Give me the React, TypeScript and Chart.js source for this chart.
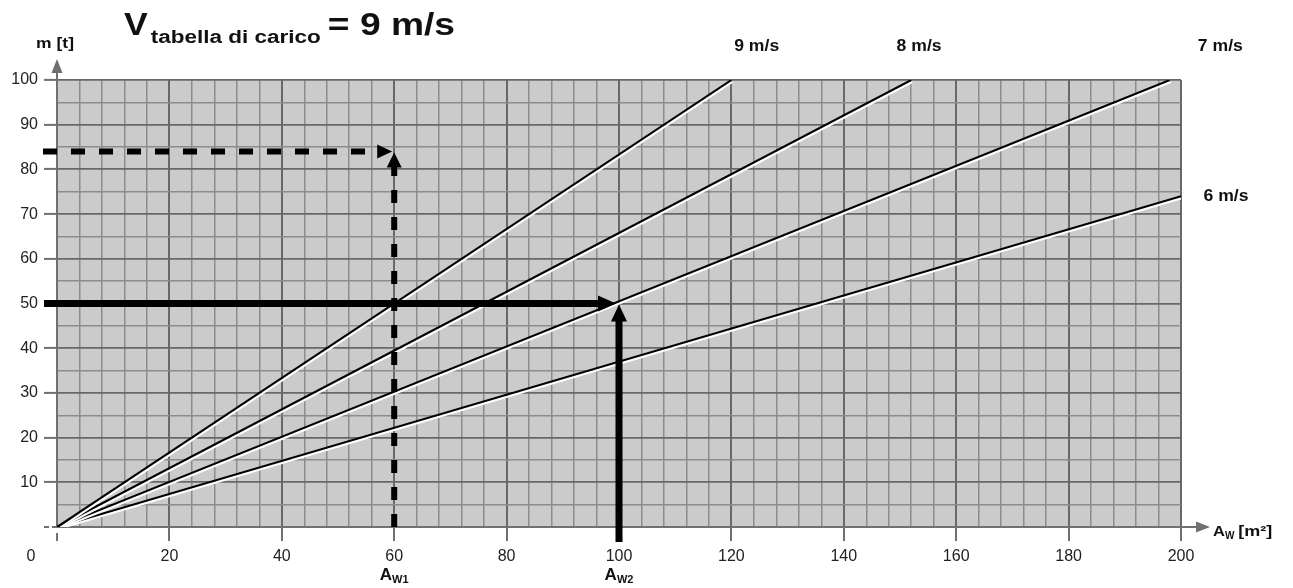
import React, { useEffect, useRef } from 'react';
import { Chart, registerables } from 'chart.js';

Chart.register(...registerables);

// ---- data ----
const speedLabels = ['9 m/s', '8 m/s', '7 m/s', '6 m/s'];
const lineEndA = [120, 152, 198, 200];
const lineEndM = [100, 100, 100, 74];
const xTickLabels = [0, 20, 40, 60, 80, 100, 120, 140, 160, 180, 200];
const yTickLabels = [10, 20, 30, 40, 50, 60, 70, 80, 90, 100];
const aw1 = 60; // A_W1
const m1 = 84;
const aw2 = 100; // A_W2
const m2 = 50;

// label anchors (data units)
const speedLabelA = [124.5, 153.4, 207, 208];
const speedLabelM = [107.4, 107.4, 107.4, 74];

const FONT = '"Liberation Sans", Arial, Helvetica, sans-serif';
const AXIS = '#707070';
const MAJOR = '#686868';
const MINOR = '#8c8c8c';
const BG = '#cbcbcb';

function sText(
  ctx: CanvasRenderingContext2D,
  text: string,
  x: number,
  y: number,
  font: string,
  sx: number,
  align: 'left' | 'center' | 'right' = 'left',
  baseline: CanvasTextBaseline = 'alphabetic',
  color = '#111'
) {
  ctx.save();
  ctx.font = font;
  ctx.textBaseline = baseline;
  ctx.textAlign = 'left';
  ctx.fillStyle = color;
  const w = ctx.measureText(text).width * sx;
  let x0 = x;
  if (align === 'center') x0 = x - w / 2;
  else if (align === 'right') x0 = x - w;
  ctx.translate(x0, y);
  ctx.scale(sx, 1);
  ctx.fillText(text, 0, 0);
  ctx.restore();
  return w;
}

function textWidth(ctx: CanvasRenderingContext2D, text: string, font: string, sx: number) {
  ctx.save();
  ctx.font = font;
  const w = ctx.measureText(text).width * sx;
  ctx.restore();
  return w;
}

function arrow(
  ctx: CanvasRenderingContext2D,
  x1: number,
  y1: number,
  x2: number,
  y2: number,
  width: number,
  headLen: number,
  headHalf: number,
  dash: number[],
  color: string
) {
  const ang = Math.atan2(y2 - y1, x2 - x1);
  const c = Math.cos(ang);
  const s = Math.sin(ang);
  const bx = x2 - c * headLen;
  const by = y2 - s * headLen;
  ctx.save();
  ctx.strokeStyle = color;
  ctx.fillStyle = color;
  ctx.lineWidth = width;
  ctx.lineCap = 'butt';
  ctx.setLineDash(dash);
  ctx.beginPath();
  ctx.moveTo(x1, y1);
  ctx.lineTo(bx + c * 1, by + s * 1);
  ctx.stroke();
  ctx.setLineDash([]);
  ctx.beginPath();
  ctx.moveTo(x2, y2);
  ctx.lineTo(bx + s * headHalf, by - c * headHalf);
  ctx.lineTo(bx - s * headHalf, by + c * headHalf);
  ctx.closePath();
  ctx.fill();
  ctx.restore();
}

const bgPlugin = {
  id: 'bgPlugin',
  beforeDraw(chart: any) {
    const { ctx, chartArea: a } = chart;
    ctx.save();
    ctx.fillStyle = '#ffffff';
    ctx.fillRect(0, 0, chart.width, chart.height);
    ctx.fillStyle = BG;
    ctx.fillRect(a.left, a.top, a.right - a.left, a.bottom - a.top);
    ctx.restore();
  },
};

const shadowPlugin = {
  id: 'shadowPlugin',
  beforeDatasetDraw(chart: any) {
    const ctx = chart.ctx;
    ctx.save();
    ctx.shadowColor = '#ffffff';
    ctx.shadowBlur = 0;
    ctx.shadowOffsetX = 1;
    ctx.shadowOffsetY = 2;
  },
  afterDatasetDraw(chart: any) {
    chart.ctx.restore();
  },
};

const overlayPlugin = {
  id: 'overlayPlugin',
  afterDraw(chart: any) {
    const { ctx, chartArea: a } = chart;
    const xs = chart.scales.x;
    const ys = chart.scales.y;

    // axis arrows
    ctx.save();
    ctx.strokeStyle = AXIS;
    ctx.fillStyle = AXIS;
    ctx.lineWidth = 2;
    ctx.beginPath();
    ctx.moveTo(a.left, a.top);
    ctx.lineTo(a.left, a.top - 8);
    ctx.moveTo(a.right, a.bottom);
    ctx.lineTo(a.right + 16, a.bottom);
    ctx.stroke();
    ctx.beginPath();
    ctx.moveTo(a.left, a.top - 21);
    ctx.lineTo(a.left - 5.5, a.top - 7);
    ctx.lineTo(a.left + 5.5, a.top - 7);
    ctx.closePath();
    ctx.fill();
    ctx.beginPath();
    ctx.moveTo(a.right + 29, a.bottom);
    ctx.lineTo(a.right + 15, a.bottom - 5.5);
    ctx.lineTo(a.right + 15, a.bottom + 5.5);
    ctx.closePath();
    ctx.fill();
    ctx.restore();

    // reading arrows
    const px1 = xs.getPixelForValue(aw1);
    const py1 = ys.getPixelForValue(m1);
    const px2 = xs.getPixelForValue(aw2);
    const py2 = ys.getPixelForValue(m2);
    arrow(ctx, a.left - 14, py1, px1 - 2, py1, 6, 15, 7, [14, 14], '#000');
    arrow(ctx, px1, a.bottom, px1, py1 + 1, 6, 15, 7.5, [13, 14], '#000');
    arrow(ctx, a.left - 13, py2, px2 - 3, py2, 7, 18, 8, [], '#000');
    arrow(ctx, px2, a.bottom + 15, px2, py2 + 1, 7, 17, 8, [], '#000');

    // speed labels
    speedLabels.forEach((lab, i) => {
      sText(
        ctx,
        lab,
        xs.getPixelForValue(speedLabelA[i]),
        ys.getPixelForValue(speedLabelM[i]),
        `bold 16px ${FONT}`,
        1.1,
        'center',
        'middle'
      );
    });

    // "0" label at the origin corner
    sText(ctx, '0', xs.getPixelForValue(0) - 26, a.bottom + 30, `16px ${FONT}`, 1, 'center', 'middle', '#222');

    // A_W1 / A_W2 labels
    const subLabel = (cx: number, main: string, sub: string, base: number) => {
      const fMain = `bold 17px ${FONT}`;
      const fSub = `bold 11px ${FONT}`;
      const w = textWidth(ctx, main, fMain, 1) + textWidth(ctx, sub, fSub, 1);
      const x0 = cx - w / 2;
      const w1 = sText(ctx, main, x0, base, fMain, 1);
      sText(ctx, sub, x0 + w1, base + 3, fSub, 1);
    };
    subLabel(px1, 'A', 'W1', a.bottom + 53);
    subLabel(px2, 'A', 'W2', a.bottom + 53);

    // x axis title A_W [m²]
    {
      const x0 = a.right + 32;
      const base = a.bottom + 9;
      const w1 = sText(ctx, 'A', x0, base, `bold 15px ${FONT}`, 1.1);
      const w2 = sText(ctx, 'W', x0 + w1, base + 3, `bold 10px ${FONT}`, 1.0);
      sText(ctx, '[m²]', x0 + w1 + w2 + 4, base, `bold 15px ${FONT}`, 1.2);
    }

    // y axis title m [t]
    sText(ctx, 'm [t]', a.left - 2, a.top - 32, `bold 14px ${FONT}`, 1.25, 'center', 'alphabetic');

    // chart title V_tabella di carico = 9 m/s
    {
      const base = 35;
      let x = 124;
      x += sText(ctx, 'V', x, base, `bold 31px ${FONT}`, 1.15);
      x += 3;
      x += sText(ctx, 'tabella di carico', x, base + 8, `bold 18px ${FONT}`, 1.25);
      x += 7;
      sText(ctx, '= 9 m/s', x, base, `bold 31px ${FONT}`, 1.2);
    }
  },
};

export default function App() {
  const ref = useRef<HTMLCanvasElement>(null);

  useEffect(() => {
    document.body.style.margin = '0';
    const canvas = ref.current;
    if (!canvas) return;

    const chart = new Chart(canvas, {
      type: 'line',
      data: {
        datasets: speedLabels.map((lab, i) => ({
          label: lab,
          data: [
            { x: 0, y: 0 },
            { x: lineEndA[i], y: lineEndM[i] },
          ],
          borderColor: '#000000',
          borderWidth: 2,
          pointRadius: 0,
          fill: false,
          tension: 0,
        })),
      },
      options: {
        animation: false,
        responsive: false,
        events: [],
        layout: { padding: { top: 80, right: 112, left: 0, bottom: 0 } },
        plugins: {
          legend: { display: false },
          tooltip: { enabled: false },
          title: { display: false },
        },
        scales: {
          x: {
            type: 'linear',
            min: 0,
            max: 200,
            afterFit: (s: any) => {
              s.height = 61;
            },
            border: { display: true, color: AXIS, width: 2 },
            grid: {
              color: (c: any) => (c.tick && c.tick.value % 20 === 0 ? MAJOR : MINOR),
              lineWidth: (c: any) => (c.tick && c.tick.value % 20 === 0 ? 2 : 1.5),
              tickColor: (c: any) =>
                c.tick && xTickLabels.includes(c.tick.value) ? AXIS : 'rgba(0,0,0,0)',
              tickWidth: 2,
              tickLength: 14,
              tickBorderDash: (c: any) => (c.tick && c.tick.value === 0 ? [0, 5, 10, 0] : []),
            },
            ticks: {
              stepSize: 4,
              autoSkip: false,
              maxRotation: 0,
              padding: 6,
              color: '#222',
              font: { family: FONT, size: 16 },
              callback: (v: any) => (xTickLabels.includes(v) && v !== 0 ? String(v) : ''),
            },
          },
          y: {
            type: 'linear',
            min: 0,
            max: 100,
            afterFit: (s: any) => {
              s.width = 57;
            },
            border: { display: true, color: AXIS, width: 2 },
            grid: {
              color: (c: any) => (c.tick && c.tick.value % 10 === 0 ? MAJOR : MINOR),
              lineWidth: (c: any) => (c.tick && c.tick.value % 10 === 0 ? 1.8 : 1.5),
              tickColor: (c: any) =>
                c.tick && (yTickLabels.includes(c.tick.value) || c.tick.value === 0)
                  ? AXIS
                  : 'rgba(0,0,0,0)',
              tickWidth: 2,
              tickLength: 13,
              tickBorderDash: (c: any) => (c.tick && c.tick.value === 0 ? [5, 3] : []),
            },
            ticks: {
              stepSize: 5,
              autoSkip: false,
              padding: 6,
              color: '#222',
              font: { family: FONT, size: 16 },
              callback: (v: any) => (yTickLabels.includes(v) ? String(v) : ''),
            },
          },
        },
      },
      plugins: [bgPlugin, shadowPlugin, overlayPlugin],
    } as any);

    return () => {
      chart.destroy();
    };
  }, []);

  return (
    <div style={{ width: 1293, height: 588, position: 'relative' }}>
      <canvas ref={ref} width={1293} height={588} style={{ display: 'block', width: 1293, height: 588 }} />
    </div>
  );
}
